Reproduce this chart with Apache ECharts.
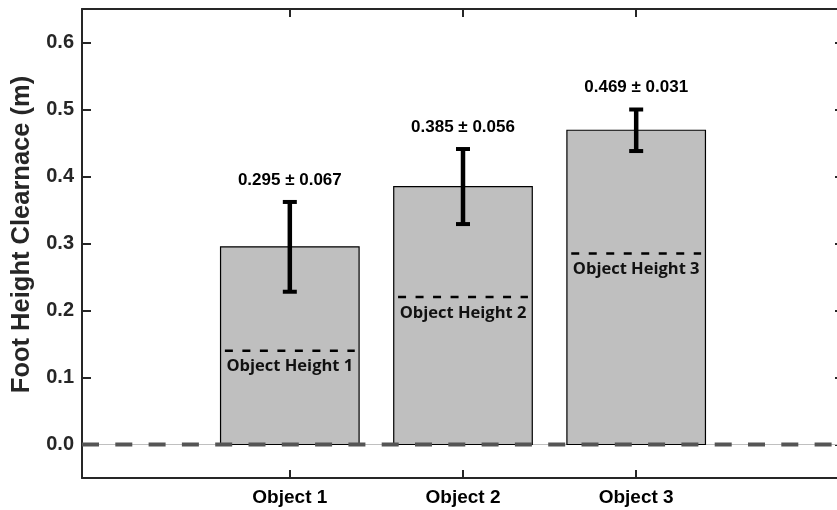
<!DOCTYPE html>
<html>
<head>
<meta charset="utf-8">
<script src="https://cdn.jsdelivr.net/npm/echarts@6/dist/echarts.min.js"></script>
<style>html,body{margin:0;padding:0;background:#fff}#c{width:837px;height:510px}</style>
</head>
<body>
<div id="c"></div>
<script>
const categories = ['Object 1', 'Object 2', 'Object 3'];
const means = [0.295, 0.385, 0.469];
const sds = [0.067, 0.056, 0.031];
const objectHeights = [0.14, 0.22, 0.285];
const heightLabels = ['Object Height 1', 'Object Height 2', 'Object Height 3'];
const yTicks = [0, 0.1, 0.2, 0.3, 0.4, 0.5, 0.6];
const catPos = [1, 2, 3];

const AX = '#262626';
const FONT = '"Liberation Sans", Arial, sans-serif';

const barData = catPos.map((x, i) => [x, means[i], sds[i], objectHeights[i]]);

const chart = echarts.init(document.getElementById('c'), null, {renderer: 'canvas'});
chart.setOption({
  animation: false,
  backgroundColor: '#fff',
  grid: {left: 82, top: 9, width: 762, height: 469, containLabel: false, outerBoundsMode: 'none'},
  xAxis: [{
    type: 'value', min: -0.2, max: 4.2, position: 'bottom',
    axisLine: {show: true, onZero: false, lineStyle: {color: AX, width: 2}},
    axisTick: {show: true, inside: true, length: 8, lineStyle: {color: AX, width: 2}, customValues: catPos},
    axisLabel: {show: true, customValues: catPos, margin: 10,
      formatter: v => categories[Math.round(v) - 1] || '',
      color: '#000', fontFamily: FONT, fontWeight: 'bold', fontSize: 19},
    splitLine: {show: false}
  }, {
    type: 'value', min: -0.2, max: 4.2, position: 'top',
    axisLine: {show: true, onZero: false, lineStyle: {color: AX, width: 2}},
    axisTick: {show: true, inside: true, length: 8, lineStyle: {color: AX, width: 2}, customValues: catPos},
    axisLabel: {show: false},
    splitLine: {show: false}
  }],
  yAxis: [{
    type: 'value', min: -0.05, max: 0.65, position: 'left',
    name: 'Foot Height Clearnace (m)', nameLocation: 'middle', nameGap: 40, nameRotate: 90,
    nameTextStyle: {color: AX, fontFamily: FONT, fontWeight: 'bold', fontSize: 25.5, padding: [0, 0, 0, 18]},
    axisLine: {show: true, onZero: false, lineStyle: {color: AX, width: 2}},
    axisTick: {show: true, inside: true, length: 9, lineStyle: {color: AX, width: 2}, customValues: yTicks},
    axisLabel: {show: true, customValues: yTicks, margin: 8, formatter: v => v.toFixed(1),
      color: AX, fontFamily: FONT, fontWeight: 'bold', fontSize: 20},
    splitLine: {show: false}
  }, {
    type: 'value', min: -0.05, max: 0.65, position: 'right',
    axisLine: {show: true, onZero: false, lineStyle: {color: AX, width: 2}},
    axisTick: {show: true, inside: true, length: 9, lineStyle: {color: AX, width: 2}, customValues: yTicks},
    axisLabel: {show: false},
    splitLine: {show: false}
  }],
  series: [
    {
      type: 'custom', xAxisIndex: 0, yAxisIndex: 0, z: 1,
      data: [[-0.2, 0], [4.2, 0]],
      renderItem: (params, api) => {
        if (params.dataIndex !== 0) return null;
        const a = api.coord([-0.2, 0]);
        const b = api.coord([4.2, 0]);
        return {type: 'line', shape: {x1: a[0], y1: a[1], x2: b[0], y2: b[1]},
          style: {stroke: '#c0c0c0', lineWidth: 1}};
      }
    },
    {
      type: 'custom', xAxisIndex: 0, yAxisIndex: 0, z: 2,
      data: barData,
      renderItem: (params, api) => {
        const x = api.value(0), m = api.value(1), s = api.value(2), h = api.value(3);
        const i = params.dataIndex;
        const hw = 0.4;
        const tl = api.coord([x - hw, m]);
        const br = api.coord([x + hw, 0]);
        const top = api.coord([x, m + s]);
        const bot = api.coord([x, m - s]);
        const hl = api.coord([x - 0.375, h]);
        const hr = api.coord([x + 0.375, h]);
        const capW = 7;
        return {type: 'group', children: [
          {type: 'rect', shape: {x: tl[0], y: tl[1], width: br[0] - tl[0], height: br[1] - tl[1]},
            style: {fill: '#bfbfbf', stroke: '#000', lineWidth: 1.2}},
          {type: 'line', shape: {x1: hl[0], y1: hl[1], x2: hr[0], y2: hr[1]},
            style: {stroke: '#000', lineWidth: 2.5, lineDash: [8, 9.5]}},
          {type: 'text', x: (hl[0] + hr[0]) / 2, y: hl[1] + 16,
            style: {text: heightLabels[i], fill: '#111', font: 'bold 16.5px "Open Sans", sans-serif',
              align: 'center', verticalAlign: 'middle'}},
          {type: 'line', shape: {x1: top[0], y1: top[1], x2: bot[0], y2: bot[1]},
            style: {stroke: '#000', lineWidth: 4.5}},
          {type: 'line', shape: {x1: top[0] - capW, y1: top[1], x2: top[0] + capW, y2: top[1]},
            style: {stroke: '#000', lineWidth: 4}},
          {type: 'line', shape: {x1: bot[0] - capW, y1: bot[1], x2: bot[0] + capW, y2: bot[1]},
            style: {stroke: '#000', lineWidth: 4}},
          {type: 'text', x: top[0], y: top[1] - 22,
            style: {text: m.toFixed(3) + ' \u00b1 ' + s.toFixed(3), fill: '#000',
              font: 'bold 17px "Liberation Sans", Arial, sans-serif', align: 'center', verticalAlign: 'middle'}}
        ]};
      }
    },
    {
      type: 'custom', xAxisIndex: 0, yAxisIndex: 0, z: 3,
      data: [[-0.2, 0], [4.2, 0]],
      renderItem: (params, api) => {
        if (params.dataIndex !== 0) return null;
        const a = api.coord([-0.2, 0]);
        const b = api.coord([4.2, 0]);
        return {type: 'line', shape: {x1: a[0], y1: a[1], x2: b[0], y2: b[1]},
          style: {stroke: '#555555', lineWidth: 4, lineDash: [17, 16.3]}};
      }
    }
  ]
});
</script>
</body>
</html>
